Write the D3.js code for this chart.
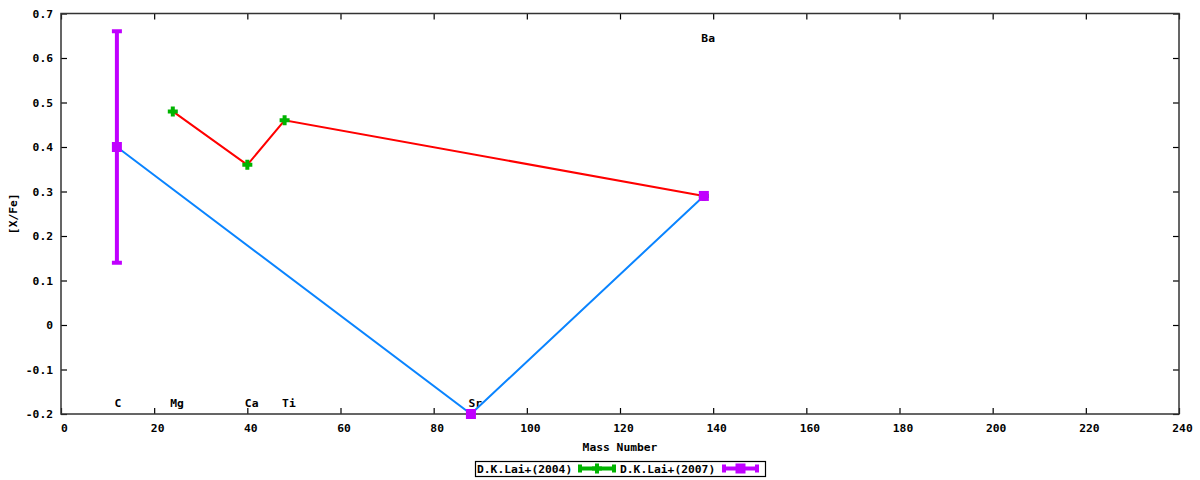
<!DOCTYPE html>
<html><head><meta charset="utf-8">
<script src="https://cdn.jsdelivr.net/npm/d3@7"></script>
<style>
body{margin:0;background:#fff;}
text{font-family:"DejaVu Sans Mono",monospace;font-weight:bold;font-size:11.3px;fill:#000;}
</style></head>
<body><svg id="c" width="1200" height="480"></svg>
<script>
// Data
const series2004Name = "D.K.Lai+(2004)";
const mass2004 = [24, 40, 48, 138];
const val2004 = [0.48, 0.36, 0.46, 0.29];
const err2004 = [0, 0, 0, 0];

const series2007Name = "D.K.Lai+(2007)";
const mass2007 = [12, 88, 138];
const val2007 = [0.40, -0.20, 0.29];
const err2007 = [0.26, 0, 0];

const elemNames = ["C", "Mg", "Ca", "Ti", "Sr", "Ba"];
const elemMass = [12, 24, 40, 48, 88, 138];
const elemLabelY = [-0.175, -0.175, -0.175, -0.175, -0.175, 0.645];

const xTicks = [0, 20, 40, 60, 80, 100, 120, 140, 160, 180, 200, 220, 240];
const yTicks = [-0.2, -0.1, 0, 0.1, 0.2, 0.3, 0.4, 0.5, 0.6, 0.7];

const L = 61, R = 1179, T = 13.5, B = 414;
const svg = d3.select("#c");
const x = d3.scaleLinear().domain([0, 240]).range([L, R]);
const y = d3.scaleLinear().domain([-0.2, 0.7]).range([B, T]);

const fmtY = d => d === 0 ? "0" : d3.format(".1f")(d).replace("−", "-");

// axes
const gL = svg.append("g").attr("transform", `translate(${L},0)`)
  .call(d3.axisLeft(y).tickValues(yTicks).tickSize(-6).tickPadding(8).tickFormat(fmtY));
const gRt = svg.append("g").attr("transform", `translate(${R},0)`)
  .call(d3.axisRight(y).tickValues(yTicks).tickSize(-6).tickFormat(""));
const gB = svg.append("g").attr("transform", `translate(0,${B})`)
  .call(d3.axisBottom(x).tickValues(xTicks).tickSize(-6).tickPadding(10).tickFormat(d3.format("d")));
const gT = svg.append("g").attr("transform", `translate(0,${T})`)
  .call(d3.axisTop(x).tickValues(xTicks).tickSize(-6).tickFormat(""));
[gL, gRt, gB, gT].forEach(g => {
  g.select(".domain").remove();
  g.selectAll(".tick line").attr("stroke", "#000").attr("stroke-width", 1.2);
  g.selectAll("text").attr("font-family", null).attr("font-size", null).style("fill", "#000");
});
gB.selectAll(".tick text").attr("dy", "0.71em").attr("x", 3);

// frame
svg.append("rect").attr("x", L).attr("y", T).attr("width", R - L).attr("height", B - T)
  .attr("fill", "none").attr("stroke", "#333").attr("stroke-width", 1.5);

// clip
svg.append("clipPath").attr("id", "clip").append("rect")
  .attr("x", L).attr("y", T).attr("width", R - L).attr("height", B - T);
const plot = svg.append("g").attr("clip-path", "url(#clip)");
const marks = svg.append("g");

// element labels
plot.selectAll(".el").data(elemNames).enter().append("text")
  .attr("x", (d, i) => x(elemMass[i]) - 2.5)
  .attr("y", (d, i) => y(elemLabelY[i]))
  .attr("dy", "0.35em").attr("text-anchor", "start").text(d => d);

const line = d3.line().x(d => x(d[0])).y(d => y(d[1]));
const d04 = mass2004.map((m, i) => [m, val2004[i], err2004[i]]);
const d07 = mass2007.map((m, i) => [m, val2007[i], err2007[i]]);

const green = "#00b400", purple = "#c000ff", red = "#ff0000", blue = "#0a84ff";

plot.append("path").datum(d04).attr("d", line).attr("fill", "none").attr("stroke", red).attr("stroke-width", 2);
plot.append("path").datum(d07).attr("d", line).attr("fill", "none").attr("stroke", blue).attr("stroke-width", 2);

function plusMarker(g, cx, cy, col) {
  g.append("path").attr("d", `M${cx - 5},${cy}H${cx + 5}M${cx},${cy - 5}V${cy + 5}`)
    .attr("stroke", col).attr("stroke-width", 4).attr("fill", "none");
}
function boxMarker(g, cx, cy, col) {
  g.append("rect").attr("x", cx - 5).attr("y", cy - 5).attr("width", 10).attr("height", 10).attr("fill", col);
}
function errBar(g, cx, lo, hi, col, w) {
  g.append("path").attr("d", `M${cx},${lo}V${hi}M${cx - 5},${lo}H${cx + 5}M${cx - 5},${hi}H${cx + 5}`)
    .attr("stroke", col).attr("stroke-width", w).attr("fill", "none");
}

d04.forEach(d => {
  if (d[2] > 0) errBar(marks, x(d[0]), y(d[1] - d[2]), y(d[1] + d[2]), green, 4);
  plusMarker(marks, x(d[0]), y(d[1]), green);
});
d07.forEach(d => {
  if (d[2] > 0) errBar(marks, x(d[0]), y(d[1] - d[2]), y(d[1] + d[2]), purple, 4);
  boxMarker(marks, x(d[0]), y(d[1]), purple);
});

// axis titles
svg.append("text").attr("x", (L + R) / 2).attr("y", 447).attr("dy", "0.35em")
  .attr("text-anchor", "middle").text("Mass Number");
svg.append("text").attr("transform", `translate(13,${(T + B) / 2}) rotate(-90)`)
  .attr("dy", "0.35em").attr("text-anchor", "middle").text("[X/Fe]");

// legend
const lg = svg.append("g");
lg.append("rect").attr("x", 475.5).attr("y", 461.5).attr("width", 290).attr("height", 15)
  .attr("fill", "none").attr("stroke", "#000").attr("stroke-width", 1.2);
lg.append("text").attr("x", 477).attr("y", 469).attr("dy", "0.35em").text(series2004Name);
lg.append("path").attr("d", "M579,468.5H615M580,464.5V472.5M614,464.5V472.5").attr("stroke", green).attr("stroke-width", 4).attr("fill", "none");
plusMarker(lg, 597, 468.5, green);
lg.append("text").attr("x", 620).attr("y", 469).attr("dy", "0.35em").text(series2007Name);
lg.append("path").attr("d", "M723,468.5H758M724,464.5V472.5M757,464.5V472.5").attr("stroke", purple).attr("stroke-width", 4).attr("fill", "none");
boxMarker(lg, 740.5, 468.5, purple);
</script></body></html>
